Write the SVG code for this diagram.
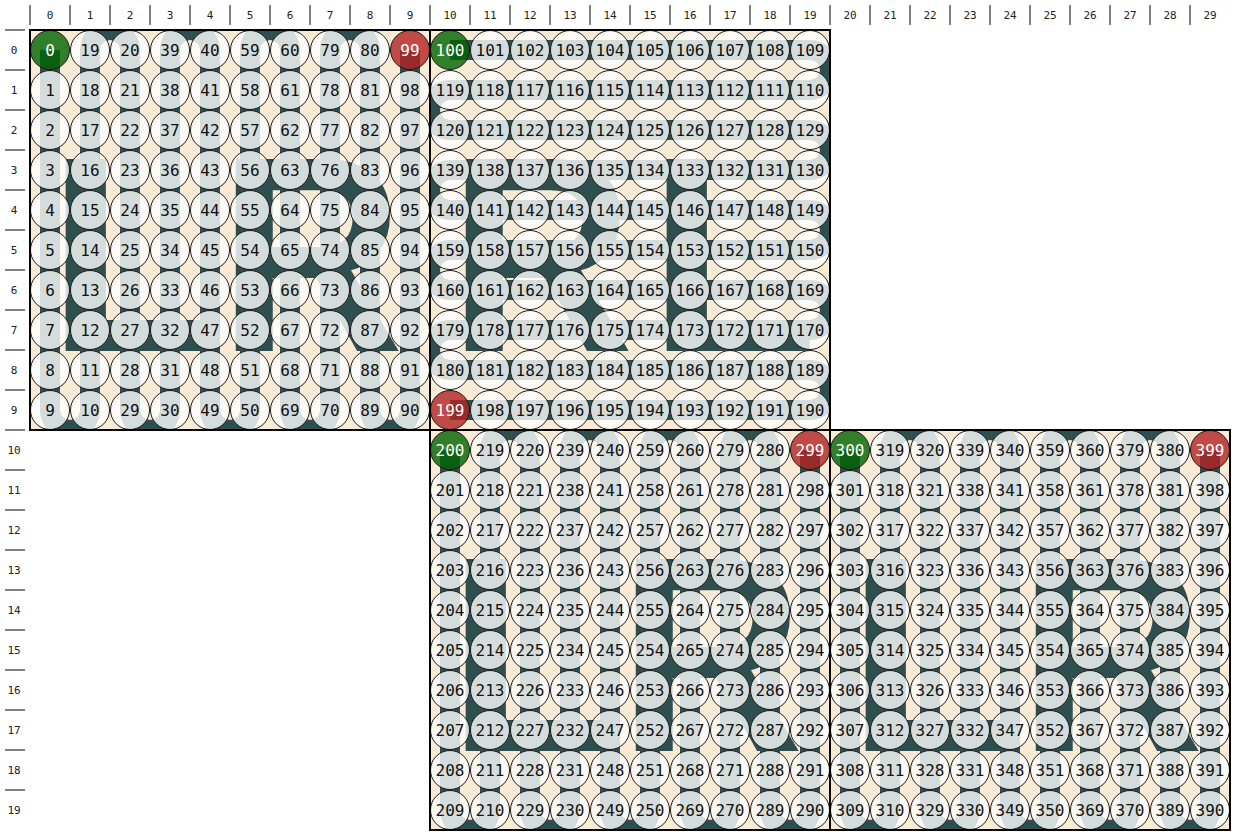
<svg xmlns="http://www.w3.org/2000/svg" width="1235" height="835" viewBox="0 0 1235 835">
<style>
.tick{stroke:#808080;stroke-width:2}
.hdr{font-family:"DejaVu Sans Mono",monospace;font-size:11px;fill:#222;text-anchor:middle;dominant-baseline:central}
.bg{fill:#faebd7}
.let{font-family:"Liberation Sans",Arial,sans-serif;font-weight:bold;font-size:279px;fill:#2f4f4f}
.wire{fill:none;stroke:#2f4f4f;stroke-width:20}
.led circle{fill:#ffffff;fill-opacity:0.8;stroke:#1a1a1a;stroke-width:1}
.led circle.s{fill:#006400}
.led circle.e{fill:#b22222}
.led text{font-family:"DejaVu Sans Mono",monospace;font-size:16px;fill:#111;text-anchor:middle;dominant-baseline:central}
.led text.w{fill:#fff}
.frame{fill:none;stroke:#000;stroke-width:2}
</style>
<defs>
<clipPath id="c0"><rect x="30" y="30" width="400" height="400"/></clipPath>
<clipPath id="c1"><rect x="430" y="30" width="400" height="400"/></clipPath>
<clipPath id="c2"><rect x="430" y="430" width="400" height="400"/></clipPath>
<clipPath id="c3"><rect x="830" y="430" width="400" height="400"/></clipPath>
</defs>
<g id="header">
<g class="tick">
<line x1="30" y1="5" x2="30" y2="25"/><line x1="70" y1="5" x2="70" y2="25"/><line x1="110" y1="5" x2="110" y2="25"/><line x1="150" y1="5" x2="150" y2="25"/><line x1="190" y1="5" x2="190" y2="25"/><line x1="230" y1="5" x2="230" y2="25"/><line x1="270" y1="5" x2="270" y2="25"/><line x1="310" y1="5" x2="310" y2="25"/><line x1="350" y1="5" x2="350" y2="25"/><line x1="390" y1="5" x2="390" y2="25"/><line x1="430" y1="5" x2="430" y2="25"/><line x1="470" y1="5" x2="470" y2="25"/><line x1="510" y1="5" x2="510" y2="25"/><line x1="550" y1="5" x2="550" y2="25"/><line x1="590" y1="5" x2="590" y2="25"/><line x1="630" y1="5" x2="630" y2="25"/><line x1="670" y1="5" x2="670" y2="25"/><line x1="710" y1="5" x2="710" y2="25"/><line x1="750" y1="5" x2="750" y2="25"/><line x1="790" y1="5" x2="790" y2="25"/><line x1="830" y1="5" x2="830" y2="25"/><line x1="870" y1="5" x2="870" y2="25"/><line x1="910" y1="5" x2="910" y2="25"/><line x1="950" y1="5" x2="950" y2="25"/><line x1="990" y1="5" x2="990" y2="25"/><line x1="1030" y1="5" x2="1030" y2="25"/><line x1="1070" y1="5" x2="1070" y2="25"/><line x1="1110" y1="5" x2="1110" y2="25"/><line x1="1150" y1="5" x2="1150" y2="25"/><line x1="1190" y1="5" x2="1190" y2="25"/>
<line x1="5" y1="30" x2="25" y2="30"/><line x1="5" y1="70" x2="25" y2="70"/><line x1="5" y1="110" x2="25" y2="110"/><line x1="5" y1="150" x2="25" y2="150"/><line x1="5" y1="190" x2="25" y2="190"/><line x1="5" y1="230" x2="25" y2="230"/><line x1="5" y1="270" x2="25" y2="270"/><line x1="5" y1="310" x2="25" y2="310"/><line x1="5" y1="350" x2="25" y2="350"/><line x1="5" y1="390" x2="25" y2="390"/><line x1="5" y1="430" x2="25" y2="430"/><line x1="5" y1="470" x2="25" y2="470"/><line x1="5" y1="510" x2="25" y2="510"/><line x1="5" y1="550" x2="25" y2="550"/><line x1="5" y1="590" x2="25" y2="590"/><line x1="5" y1="630" x2="25" y2="630"/><line x1="5" y1="670" x2="25" y2="670"/><line x1="5" y1="710" x2="25" y2="710"/><line x1="5" y1="750" x2="25" y2="750"/><line x1="5" y1="790" x2="25" y2="790"/>
</g>
<g class="hdr">
<text x="50" y="15">0</text><text x="90" y="15">1</text><text x="130" y="15">2</text><text x="170" y="15">3</text><text x="210" y="15">4</text><text x="250" y="15">5</text><text x="290" y="15">6</text><text x="330" y="15">7</text><text x="370" y="15">8</text><text x="410" y="15">9</text><text x="450" y="15">10</text><text x="490" y="15">11</text><text x="530" y="15">12</text><text x="570" y="15">13</text><text x="610" y="15">14</text><text x="650" y="15">15</text><text x="690" y="15">16</text><text x="730" y="15">17</text><text x="770" y="15">18</text><text x="810" y="15">19</text><text x="850" y="15">20</text><text x="890" y="15">21</text><text x="930" y="15">22</text><text x="970" y="15">23</text><text x="1010" y="15">24</text><text x="1050" y="15">25</text><text x="1090" y="15">26</text><text x="1130" y="15">27</text><text x="1170" y="15">28</text><text x="1210" y="15">29</text>
<text x="14" y="50">0</text><text x="14" y="90">1</text><text x="14" y="130">2</text><text x="14" y="170">3</text><text x="14" y="210">4</text><text x="14" y="250">5</text><text x="14" y="290">6</text><text x="14" y="330">7</text><text x="14" y="370">8</text><text x="14" y="410">9</text><text x="14" y="450">10</text><text x="14" y="490">11</text><text x="14" y="530">12</text><text x="14" y="570">13</text><text x="14" y="610">14</text><text x="14" y="650">15</text><text x="14" y="690">16</text><text x="14" y="730">17</text><text x="14" y="770">18</text><text x="14" y="810">19</text>
</g>
</g>
<g id="backgrounds">
<rect class="bg" x="30" y="30" width="400" height="400"/>
<rect class="bg" x="430" y="30" width="400" height="400"/>
<rect class="bg" x="430" y="430" width="400" height="400"/>
<rect class="bg" x="830" y="430" width="400" height="400"/>
<text class="let" x="47" y="351">L</text>
<text class="let" x="217" y="351" transform="translate(237,0) scale(0.92,1) translate(-237,0)">R</text>
<text class="let" x="447" y="351" transform="translate(467,0) scale(0.92,1) translate(-467,0)">R</text>
<text class="let" x="648" y="351">L</text>
<text class="let" x="447" y="751">L</text>
<text class="let" x="617" y="751" transform="translate(637,0) scale(0.92,1) translate(-637,0)">R</text>
<text class="let" x="847" y="751">L</text>
<text class="let" x="1017" y="751" transform="translate(1037,0) scale(0.92,1) translate(-1037,0)">R</text>
</g>
<g id="connectors">
<path class="wire" clip-path="url(#c0)" d="M50,50 V410 A20,20 0 0 0 90,410 V50 A20,20 0 0 1 130,50 V410 A20,20 0 0 0 170,410 V50 A20,20 0 0 1 210,50 V410 A20,20 0 0 0 250,410 V50 A20,20 0 0 1 290,50 V410 A20,20 0 0 0 330,410 V50 A20,20 0 0 1 370,50 V410 A20,20 0 0 0 410,410 V50"/>
<path class="wire" clip-path="url(#c1)" d="M450,50 H810 A20,20 0 0 1 810,90 H450 A20,20 0 0 0 450,130 H810 A20,20 0 0 1 810,170 H450 A20,20 0 0 0 450,210 H810 A20,20 0 0 1 810,250 H450 A20,20 0 0 0 450,290 H810 A20,20 0 0 1 810,330 H450 A20,20 0 0 0 450,370 H810 A20,20 0 0 1 810,410 H450"/>
<path class="wire" clip-path="url(#c2)" d="M450,450 V810 A20,20 0 0 0 490,810 V450 A20,20 0 0 1 530,450 V810 A20,20 0 0 0 570,810 V450 A20,20 0 0 1 610,450 V810 A20,20 0 0 0 650,810 V450 A20,20 0 0 1 690,450 V810 A20,20 0 0 0 730,810 V450 A20,20 0 0 1 770,450 V810 A20,20 0 0 0 810,810 V450"/>
<path class="wire" clip-path="url(#c3)" d="M850,450 V810 A20,20 0 0 0 890,810 V450 A20,20 0 0 1 930,450 V810 A20,20 0 0 0 970,810 V450 A20,20 0 0 1 1010,450 V810 A20,20 0 0 0 1050,810 V450 A20,20 0 0 1 1090,450 V810 A20,20 0 0 0 1130,810 V450 A20,20 0 0 1 1170,450 V810 A20,20 0 0 0 1210,810 V450"/>
</g>
<g id="panel0" class="led">
<circle class="s" cx="50" cy="50" r="19.5"/><text class="w" x="50" y="50">0</text>
<circle cx="50" cy="90" r="19.5"/><text x="50" y="90">1</text>
<circle cx="50" cy="130" r="19.5"/><text x="50" y="130">2</text>
<circle cx="50" cy="170" r="19.5"/><text x="50" y="170">3</text>
<circle cx="50" cy="210" r="19.5"/><text x="50" y="210">4</text>
<circle cx="50" cy="250" r="19.5"/><text x="50" y="250">5</text>
<circle cx="50" cy="290" r="19.5"/><text x="50" y="290">6</text>
<circle cx="50" cy="330" r="19.5"/><text x="50" y="330">7</text>
<circle cx="50" cy="370" r="19.5"/><text x="50" y="370">8</text>
<circle cx="50" cy="410" r="19.5"/><text x="50" y="410">9</text>
<circle cx="90" cy="410" r="19.5"/><text x="90" y="410">10</text>
<circle cx="90" cy="370" r="19.5"/><text x="90" y="370">11</text>
<circle cx="90" cy="330" r="19.5"/><text x="90" y="330">12</text>
<circle cx="90" cy="290" r="19.5"/><text x="90" y="290">13</text>
<circle cx="90" cy="250" r="19.5"/><text x="90" y="250">14</text>
<circle cx="90" cy="210" r="19.5"/><text x="90" y="210">15</text>
<circle cx="90" cy="170" r="19.5"/><text x="90" y="170">16</text>
<circle cx="90" cy="130" r="19.5"/><text x="90" y="130">17</text>
<circle cx="90" cy="90" r="19.5"/><text x="90" y="90">18</text>
<circle cx="90" cy="50" r="19.5"/><text x="90" y="50">19</text>
<circle cx="130" cy="50" r="19.5"/><text x="130" y="50">20</text>
<circle cx="130" cy="90" r="19.5"/><text x="130" y="90">21</text>
<circle cx="130" cy="130" r="19.5"/><text x="130" y="130">22</text>
<circle cx="130" cy="170" r="19.5"/><text x="130" y="170">23</text>
<circle cx="130" cy="210" r="19.5"/><text x="130" y="210">24</text>
<circle cx="130" cy="250" r="19.5"/><text x="130" y="250">25</text>
<circle cx="130" cy="290" r="19.5"/><text x="130" y="290">26</text>
<circle cx="130" cy="330" r="19.5"/><text x="130" y="330">27</text>
<circle cx="130" cy="370" r="19.5"/><text x="130" y="370">28</text>
<circle cx="130" cy="410" r="19.5"/><text x="130" y="410">29</text>
<circle cx="170" cy="410" r="19.5"/><text x="170" y="410">30</text>
<circle cx="170" cy="370" r="19.5"/><text x="170" y="370">31</text>
<circle cx="170" cy="330" r="19.5"/><text x="170" y="330">32</text>
<circle cx="170" cy="290" r="19.5"/><text x="170" y="290">33</text>
<circle cx="170" cy="250" r="19.5"/><text x="170" y="250">34</text>
<circle cx="170" cy="210" r="19.5"/><text x="170" y="210">35</text>
<circle cx="170" cy="170" r="19.5"/><text x="170" y="170">36</text>
<circle cx="170" cy="130" r="19.5"/><text x="170" y="130">37</text>
<circle cx="170" cy="90" r="19.5"/><text x="170" y="90">38</text>
<circle cx="170" cy="50" r="19.5"/><text x="170" y="50">39</text>
<circle cx="210" cy="50" r="19.5"/><text x="210" y="50">40</text>
<circle cx="210" cy="90" r="19.5"/><text x="210" y="90">41</text>
<circle cx="210" cy="130" r="19.5"/><text x="210" y="130">42</text>
<circle cx="210" cy="170" r="19.5"/><text x="210" y="170">43</text>
<circle cx="210" cy="210" r="19.5"/><text x="210" y="210">44</text>
<circle cx="210" cy="250" r="19.5"/><text x="210" y="250">45</text>
<circle cx="210" cy="290" r="19.5"/><text x="210" y="290">46</text>
<circle cx="210" cy="330" r="19.5"/><text x="210" y="330">47</text>
<circle cx="210" cy="370" r="19.5"/><text x="210" y="370">48</text>
<circle cx="210" cy="410" r="19.5"/><text x="210" y="410">49</text>
<circle cx="250" cy="410" r="19.5"/><text x="250" y="410">50</text>
<circle cx="250" cy="370" r="19.5"/><text x="250" y="370">51</text>
<circle cx="250" cy="330" r="19.5"/><text x="250" y="330">52</text>
<circle cx="250" cy="290" r="19.5"/><text x="250" y="290">53</text>
<circle cx="250" cy="250" r="19.5"/><text x="250" y="250">54</text>
<circle cx="250" cy="210" r="19.5"/><text x="250" y="210">55</text>
<circle cx="250" cy="170" r="19.5"/><text x="250" y="170">56</text>
<circle cx="250" cy="130" r="19.5"/><text x="250" y="130">57</text>
<circle cx="250" cy="90" r="19.5"/><text x="250" y="90">58</text>
<circle cx="250" cy="50" r="19.5"/><text x="250" y="50">59</text>
<circle cx="290" cy="50" r="19.5"/><text x="290" y="50">60</text>
<circle cx="290" cy="90" r="19.5"/><text x="290" y="90">61</text>
<circle cx="290" cy="130" r="19.5"/><text x="290" y="130">62</text>
<circle cx="290" cy="170" r="19.5"/><text x="290" y="170">63</text>
<circle cx="290" cy="210" r="19.5"/><text x="290" y="210">64</text>
<circle cx="290" cy="250" r="19.5"/><text x="290" y="250">65</text>
<circle cx="290" cy="290" r="19.5"/><text x="290" y="290">66</text>
<circle cx="290" cy="330" r="19.5"/><text x="290" y="330">67</text>
<circle cx="290" cy="370" r="19.5"/><text x="290" y="370">68</text>
<circle cx="290" cy="410" r="19.5"/><text x="290" y="410">69</text>
<circle cx="330" cy="410" r="19.5"/><text x="330" y="410">70</text>
<circle cx="330" cy="370" r="19.5"/><text x="330" y="370">71</text>
<circle cx="330" cy="330" r="19.5"/><text x="330" y="330">72</text>
<circle cx="330" cy="290" r="19.5"/><text x="330" y="290">73</text>
<circle cx="330" cy="250" r="19.5"/><text x="330" y="250">74</text>
<circle cx="330" cy="210" r="19.5"/><text x="330" y="210">75</text>
<circle cx="330" cy="170" r="19.5"/><text x="330" y="170">76</text>
<circle cx="330" cy="130" r="19.5"/><text x="330" y="130">77</text>
<circle cx="330" cy="90" r="19.5"/><text x="330" y="90">78</text>
<circle cx="330" cy="50" r="19.5"/><text x="330" y="50">79</text>
<circle cx="370" cy="50" r="19.5"/><text x="370" y="50">80</text>
<circle cx="370" cy="90" r="19.5"/><text x="370" y="90">81</text>
<circle cx="370" cy="130" r="19.5"/><text x="370" y="130">82</text>
<circle cx="370" cy="170" r="19.5"/><text x="370" y="170">83</text>
<circle cx="370" cy="210" r="19.5"/><text x="370" y="210">84</text>
<circle cx="370" cy="250" r="19.5"/><text x="370" y="250">85</text>
<circle cx="370" cy="290" r="19.5"/><text x="370" y="290">86</text>
<circle cx="370" cy="330" r="19.5"/><text x="370" y="330">87</text>
<circle cx="370" cy="370" r="19.5"/><text x="370" y="370">88</text>
<circle cx="370" cy="410" r="19.5"/><text x="370" y="410">89</text>
<circle cx="410" cy="410" r="19.5"/><text x="410" y="410">90</text>
<circle cx="410" cy="370" r="19.5"/><text x="410" y="370">91</text>
<circle cx="410" cy="330" r="19.5"/><text x="410" y="330">92</text>
<circle cx="410" cy="290" r="19.5"/><text x="410" y="290">93</text>
<circle cx="410" cy="250" r="19.5"/><text x="410" y="250">94</text>
<circle cx="410" cy="210" r="19.5"/><text x="410" y="210">95</text>
<circle cx="410" cy="170" r="19.5"/><text x="410" y="170">96</text>
<circle cx="410" cy="130" r="19.5"/><text x="410" y="130">97</text>
<circle cx="410" cy="90" r="19.5"/><text x="410" y="90">98</text>
<circle class="e" cx="410" cy="50" r="19.5"/><text class="w" x="410" y="50">99</text>
</g>
<g id="panel1" class="led">
<circle class="s" cx="450" cy="50" r="19.5"/><text class="w" x="450" y="50">100</text>
<circle cx="490" cy="50" r="19.5"/><text x="490" y="50">101</text>
<circle cx="530" cy="50" r="19.5"/><text x="530" y="50">102</text>
<circle cx="570" cy="50" r="19.5"/><text x="570" y="50">103</text>
<circle cx="610" cy="50" r="19.5"/><text x="610" y="50">104</text>
<circle cx="650" cy="50" r="19.5"/><text x="650" y="50">105</text>
<circle cx="690" cy="50" r="19.5"/><text x="690" y="50">106</text>
<circle cx="730" cy="50" r="19.5"/><text x="730" y="50">107</text>
<circle cx="770" cy="50" r="19.5"/><text x="770" y="50">108</text>
<circle cx="810" cy="50" r="19.5"/><text x="810" y="50">109</text>
<circle cx="810" cy="90" r="19.5"/><text x="810" y="90">110</text>
<circle cx="770" cy="90" r="19.5"/><text x="770" y="90">111</text>
<circle cx="730" cy="90" r="19.5"/><text x="730" y="90">112</text>
<circle cx="690" cy="90" r="19.5"/><text x="690" y="90">113</text>
<circle cx="650" cy="90" r="19.5"/><text x="650" y="90">114</text>
<circle cx="610" cy="90" r="19.5"/><text x="610" y="90">115</text>
<circle cx="570" cy="90" r="19.5"/><text x="570" y="90">116</text>
<circle cx="530" cy="90" r="19.5"/><text x="530" y="90">117</text>
<circle cx="490" cy="90" r="19.5"/><text x="490" y="90">118</text>
<circle cx="450" cy="90" r="19.5"/><text x="450" y="90">119</text>
<circle cx="450" cy="130" r="19.5"/><text x="450" y="130">120</text>
<circle cx="490" cy="130" r="19.5"/><text x="490" y="130">121</text>
<circle cx="530" cy="130" r="19.5"/><text x="530" y="130">122</text>
<circle cx="570" cy="130" r="19.5"/><text x="570" y="130">123</text>
<circle cx="610" cy="130" r="19.5"/><text x="610" y="130">124</text>
<circle cx="650" cy="130" r="19.5"/><text x="650" y="130">125</text>
<circle cx="690" cy="130" r="19.5"/><text x="690" y="130">126</text>
<circle cx="730" cy="130" r="19.5"/><text x="730" y="130">127</text>
<circle cx="770" cy="130" r="19.5"/><text x="770" y="130">128</text>
<circle cx="810" cy="130" r="19.5"/><text x="810" y="130">129</text>
<circle cx="810" cy="170" r="19.5"/><text x="810" y="170">130</text>
<circle cx="770" cy="170" r="19.5"/><text x="770" y="170">131</text>
<circle cx="730" cy="170" r="19.5"/><text x="730" y="170">132</text>
<circle cx="690" cy="170" r="19.5"/><text x="690" y="170">133</text>
<circle cx="650" cy="170" r="19.5"/><text x="650" y="170">134</text>
<circle cx="610" cy="170" r="19.5"/><text x="610" y="170">135</text>
<circle cx="570" cy="170" r="19.5"/><text x="570" y="170">136</text>
<circle cx="530" cy="170" r="19.5"/><text x="530" y="170">137</text>
<circle cx="490" cy="170" r="19.5"/><text x="490" y="170">138</text>
<circle cx="450" cy="170" r="19.5"/><text x="450" y="170">139</text>
<circle cx="450" cy="210" r="19.5"/><text x="450" y="210">140</text>
<circle cx="490" cy="210" r="19.5"/><text x="490" y="210">141</text>
<circle cx="530" cy="210" r="19.5"/><text x="530" y="210">142</text>
<circle cx="570" cy="210" r="19.5"/><text x="570" y="210">143</text>
<circle cx="610" cy="210" r="19.5"/><text x="610" y="210">144</text>
<circle cx="650" cy="210" r="19.5"/><text x="650" y="210">145</text>
<circle cx="690" cy="210" r="19.5"/><text x="690" y="210">146</text>
<circle cx="730" cy="210" r="19.5"/><text x="730" y="210">147</text>
<circle cx="770" cy="210" r="19.5"/><text x="770" y="210">148</text>
<circle cx="810" cy="210" r="19.5"/><text x="810" y="210">149</text>
<circle cx="810" cy="250" r="19.5"/><text x="810" y="250">150</text>
<circle cx="770" cy="250" r="19.5"/><text x="770" y="250">151</text>
<circle cx="730" cy="250" r="19.5"/><text x="730" y="250">152</text>
<circle cx="690" cy="250" r="19.5"/><text x="690" y="250">153</text>
<circle cx="650" cy="250" r="19.5"/><text x="650" y="250">154</text>
<circle cx="610" cy="250" r="19.5"/><text x="610" y="250">155</text>
<circle cx="570" cy="250" r="19.5"/><text x="570" y="250">156</text>
<circle cx="530" cy="250" r="19.5"/><text x="530" y="250">157</text>
<circle cx="490" cy="250" r="19.5"/><text x="490" y="250">158</text>
<circle cx="450" cy="250" r="19.5"/><text x="450" y="250">159</text>
<circle cx="450" cy="290" r="19.5"/><text x="450" y="290">160</text>
<circle cx="490" cy="290" r="19.5"/><text x="490" y="290">161</text>
<circle cx="530" cy="290" r="19.5"/><text x="530" y="290">162</text>
<circle cx="570" cy="290" r="19.5"/><text x="570" y="290">163</text>
<circle cx="610" cy="290" r="19.5"/><text x="610" y="290">164</text>
<circle cx="650" cy="290" r="19.5"/><text x="650" y="290">165</text>
<circle cx="690" cy="290" r="19.5"/><text x="690" y="290">166</text>
<circle cx="730" cy="290" r="19.5"/><text x="730" y="290">167</text>
<circle cx="770" cy="290" r="19.5"/><text x="770" y="290">168</text>
<circle cx="810" cy="290" r="19.5"/><text x="810" y="290">169</text>
<circle cx="810" cy="330" r="19.5"/><text x="810" y="330">170</text>
<circle cx="770" cy="330" r="19.5"/><text x="770" y="330">171</text>
<circle cx="730" cy="330" r="19.5"/><text x="730" y="330">172</text>
<circle cx="690" cy="330" r="19.5"/><text x="690" y="330">173</text>
<circle cx="650" cy="330" r="19.5"/><text x="650" y="330">174</text>
<circle cx="610" cy="330" r="19.5"/><text x="610" y="330">175</text>
<circle cx="570" cy="330" r="19.5"/><text x="570" y="330">176</text>
<circle cx="530" cy="330" r="19.5"/><text x="530" y="330">177</text>
<circle cx="490" cy="330" r="19.5"/><text x="490" y="330">178</text>
<circle cx="450" cy="330" r="19.5"/><text x="450" y="330">179</text>
<circle cx="450" cy="370" r="19.5"/><text x="450" y="370">180</text>
<circle cx="490" cy="370" r="19.5"/><text x="490" y="370">181</text>
<circle cx="530" cy="370" r="19.5"/><text x="530" y="370">182</text>
<circle cx="570" cy="370" r="19.5"/><text x="570" y="370">183</text>
<circle cx="610" cy="370" r="19.5"/><text x="610" y="370">184</text>
<circle cx="650" cy="370" r="19.5"/><text x="650" y="370">185</text>
<circle cx="690" cy="370" r="19.5"/><text x="690" y="370">186</text>
<circle cx="730" cy="370" r="19.5"/><text x="730" y="370">187</text>
<circle cx="770" cy="370" r="19.5"/><text x="770" y="370">188</text>
<circle cx="810" cy="370" r="19.5"/><text x="810" y="370">189</text>
<circle cx="810" cy="410" r="19.5"/><text x="810" y="410">190</text>
<circle cx="770" cy="410" r="19.5"/><text x="770" y="410">191</text>
<circle cx="730" cy="410" r="19.5"/><text x="730" y="410">192</text>
<circle cx="690" cy="410" r="19.5"/><text x="690" y="410">193</text>
<circle cx="650" cy="410" r="19.5"/><text x="650" y="410">194</text>
<circle cx="610" cy="410" r="19.5"/><text x="610" y="410">195</text>
<circle cx="570" cy="410" r="19.5"/><text x="570" y="410">196</text>
<circle cx="530" cy="410" r="19.5"/><text x="530" y="410">197</text>
<circle cx="490" cy="410" r="19.5"/><text x="490" y="410">198</text>
<circle class="e" cx="450" cy="410" r="19.5"/><text class="w" x="450" y="410">199</text>
</g>
<g id="panel2" class="led">
<circle class="s" cx="450" cy="450" r="19.5"/><text class="w" x="450" y="450">200</text>
<circle cx="450" cy="490" r="19.5"/><text x="450" y="490">201</text>
<circle cx="450" cy="530" r="19.5"/><text x="450" y="530">202</text>
<circle cx="450" cy="570" r="19.5"/><text x="450" y="570">203</text>
<circle cx="450" cy="610" r="19.5"/><text x="450" y="610">204</text>
<circle cx="450" cy="650" r="19.5"/><text x="450" y="650">205</text>
<circle cx="450" cy="690" r="19.5"/><text x="450" y="690">206</text>
<circle cx="450" cy="730" r="19.5"/><text x="450" y="730">207</text>
<circle cx="450" cy="770" r="19.5"/><text x="450" y="770">208</text>
<circle cx="450" cy="810" r="19.5"/><text x="450" y="810">209</text>
<circle cx="490" cy="810" r="19.5"/><text x="490" y="810">210</text>
<circle cx="490" cy="770" r="19.5"/><text x="490" y="770">211</text>
<circle cx="490" cy="730" r="19.5"/><text x="490" y="730">212</text>
<circle cx="490" cy="690" r="19.5"/><text x="490" y="690">213</text>
<circle cx="490" cy="650" r="19.5"/><text x="490" y="650">214</text>
<circle cx="490" cy="610" r="19.5"/><text x="490" y="610">215</text>
<circle cx="490" cy="570" r="19.5"/><text x="490" y="570">216</text>
<circle cx="490" cy="530" r="19.5"/><text x="490" y="530">217</text>
<circle cx="490" cy="490" r="19.5"/><text x="490" y="490">218</text>
<circle cx="490" cy="450" r="19.5"/><text x="490" y="450">219</text>
<circle cx="530" cy="450" r="19.5"/><text x="530" y="450">220</text>
<circle cx="530" cy="490" r="19.5"/><text x="530" y="490">221</text>
<circle cx="530" cy="530" r="19.5"/><text x="530" y="530">222</text>
<circle cx="530" cy="570" r="19.5"/><text x="530" y="570">223</text>
<circle cx="530" cy="610" r="19.5"/><text x="530" y="610">224</text>
<circle cx="530" cy="650" r="19.5"/><text x="530" y="650">225</text>
<circle cx="530" cy="690" r="19.5"/><text x="530" y="690">226</text>
<circle cx="530" cy="730" r="19.5"/><text x="530" y="730">227</text>
<circle cx="530" cy="770" r="19.5"/><text x="530" y="770">228</text>
<circle cx="530" cy="810" r="19.5"/><text x="530" y="810">229</text>
<circle cx="570" cy="810" r="19.5"/><text x="570" y="810">230</text>
<circle cx="570" cy="770" r="19.5"/><text x="570" y="770">231</text>
<circle cx="570" cy="730" r="19.5"/><text x="570" y="730">232</text>
<circle cx="570" cy="690" r="19.5"/><text x="570" y="690">233</text>
<circle cx="570" cy="650" r="19.5"/><text x="570" y="650">234</text>
<circle cx="570" cy="610" r="19.5"/><text x="570" y="610">235</text>
<circle cx="570" cy="570" r="19.5"/><text x="570" y="570">236</text>
<circle cx="570" cy="530" r="19.5"/><text x="570" y="530">237</text>
<circle cx="570" cy="490" r="19.5"/><text x="570" y="490">238</text>
<circle cx="570" cy="450" r="19.5"/><text x="570" y="450">239</text>
<circle cx="610" cy="450" r="19.5"/><text x="610" y="450">240</text>
<circle cx="610" cy="490" r="19.5"/><text x="610" y="490">241</text>
<circle cx="610" cy="530" r="19.5"/><text x="610" y="530">242</text>
<circle cx="610" cy="570" r="19.5"/><text x="610" y="570">243</text>
<circle cx="610" cy="610" r="19.5"/><text x="610" y="610">244</text>
<circle cx="610" cy="650" r="19.5"/><text x="610" y="650">245</text>
<circle cx="610" cy="690" r="19.5"/><text x="610" y="690">246</text>
<circle cx="610" cy="730" r="19.5"/><text x="610" y="730">247</text>
<circle cx="610" cy="770" r="19.5"/><text x="610" y="770">248</text>
<circle cx="610" cy="810" r="19.5"/><text x="610" y="810">249</text>
<circle cx="650" cy="810" r="19.5"/><text x="650" y="810">250</text>
<circle cx="650" cy="770" r="19.5"/><text x="650" y="770">251</text>
<circle cx="650" cy="730" r="19.5"/><text x="650" y="730">252</text>
<circle cx="650" cy="690" r="19.5"/><text x="650" y="690">253</text>
<circle cx="650" cy="650" r="19.5"/><text x="650" y="650">254</text>
<circle cx="650" cy="610" r="19.5"/><text x="650" y="610">255</text>
<circle cx="650" cy="570" r="19.5"/><text x="650" y="570">256</text>
<circle cx="650" cy="530" r="19.5"/><text x="650" y="530">257</text>
<circle cx="650" cy="490" r="19.5"/><text x="650" y="490">258</text>
<circle cx="650" cy="450" r="19.5"/><text x="650" y="450">259</text>
<circle cx="690" cy="450" r="19.5"/><text x="690" y="450">260</text>
<circle cx="690" cy="490" r="19.5"/><text x="690" y="490">261</text>
<circle cx="690" cy="530" r="19.5"/><text x="690" y="530">262</text>
<circle cx="690" cy="570" r="19.5"/><text x="690" y="570">263</text>
<circle cx="690" cy="610" r="19.5"/><text x="690" y="610">264</text>
<circle cx="690" cy="650" r="19.5"/><text x="690" y="650">265</text>
<circle cx="690" cy="690" r="19.5"/><text x="690" y="690">266</text>
<circle cx="690" cy="730" r="19.5"/><text x="690" y="730">267</text>
<circle cx="690" cy="770" r="19.5"/><text x="690" y="770">268</text>
<circle cx="690" cy="810" r="19.5"/><text x="690" y="810">269</text>
<circle cx="730" cy="810" r="19.5"/><text x="730" y="810">270</text>
<circle cx="730" cy="770" r="19.5"/><text x="730" y="770">271</text>
<circle cx="730" cy="730" r="19.5"/><text x="730" y="730">272</text>
<circle cx="730" cy="690" r="19.5"/><text x="730" y="690">273</text>
<circle cx="730" cy="650" r="19.5"/><text x="730" y="650">274</text>
<circle cx="730" cy="610" r="19.5"/><text x="730" y="610">275</text>
<circle cx="730" cy="570" r="19.5"/><text x="730" y="570">276</text>
<circle cx="730" cy="530" r="19.5"/><text x="730" y="530">277</text>
<circle cx="730" cy="490" r="19.5"/><text x="730" y="490">278</text>
<circle cx="730" cy="450" r="19.5"/><text x="730" y="450">279</text>
<circle cx="770" cy="450" r="19.5"/><text x="770" y="450">280</text>
<circle cx="770" cy="490" r="19.5"/><text x="770" y="490">281</text>
<circle cx="770" cy="530" r="19.5"/><text x="770" y="530">282</text>
<circle cx="770" cy="570" r="19.5"/><text x="770" y="570">283</text>
<circle cx="770" cy="610" r="19.5"/><text x="770" y="610">284</text>
<circle cx="770" cy="650" r="19.5"/><text x="770" y="650">285</text>
<circle cx="770" cy="690" r="19.5"/><text x="770" y="690">286</text>
<circle cx="770" cy="730" r="19.5"/><text x="770" y="730">287</text>
<circle cx="770" cy="770" r="19.5"/><text x="770" y="770">288</text>
<circle cx="770" cy="810" r="19.5"/><text x="770" y="810">289</text>
<circle cx="810" cy="810" r="19.5"/><text x="810" y="810">290</text>
<circle cx="810" cy="770" r="19.5"/><text x="810" y="770">291</text>
<circle cx="810" cy="730" r="19.5"/><text x="810" y="730">292</text>
<circle cx="810" cy="690" r="19.5"/><text x="810" y="690">293</text>
<circle cx="810" cy="650" r="19.5"/><text x="810" y="650">294</text>
<circle cx="810" cy="610" r="19.5"/><text x="810" y="610">295</text>
<circle cx="810" cy="570" r="19.5"/><text x="810" y="570">296</text>
<circle cx="810" cy="530" r="19.5"/><text x="810" y="530">297</text>
<circle cx="810" cy="490" r="19.5"/><text x="810" y="490">298</text>
<circle class="e" cx="810" cy="450" r="19.5"/><text class="w" x="810" y="450">299</text>
</g>
<g id="panel3" class="led">
<circle class="s" cx="850" cy="450" r="19.5"/><text class="w" x="850" y="450">300</text>
<circle cx="850" cy="490" r="19.5"/><text x="850" y="490">301</text>
<circle cx="850" cy="530" r="19.5"/><text x="850" y="530">302</text>
<circle cx="850" cy="570" r="19.5"/><text x="850" y="570">303</text>
<circle cx="850" cy="610" r="19.5"/><text x="850" y="610">304</text>
<circle cx="850" cy="650" r="19.5"/><text x="850" y="650">305</text>
<circle cx="850" cy="690" r="19.5"/><text x="850" y="690">306</text>
<circle cx="850" cy="730" r="19.5"/><text x="850" y="730">307</text>
<circle cx="850" cy="770" r="19.5"/><text x="850" y="770">308</text>
<circle cx="850" cy="810" r="19.5"/><text x="850" y="810">309</text>
<circle cx="890" cy="810" r="19.5"/><text x="890" y="810">310</text>
<circle cx="890" cy="770" r="19.5"/><text x="890" y="770">311</text>
<circle cx="890" cy="730" r="19.5"/><text x="890" y="730">312</text>
<circle cx="890" cy="690" r="19.5"/><text x="890" y="690">313</text>
<circle cx="890" cy="650" r="19.5"/><text x="890" y="650">314</text>
<circle cx="890" cy="610" r="19.5"/><text x="890" y="610">315</text>
<circle cx="890" cy="570" r="19.5"/><text x="890" y="570">316</text>
<circle cx="890" cy="530" r="19.5"/><text x="890" y="530">317</text>
<circle cx="890" cy="490" r="19.5"/><text x="890" y="490">318</text>
<circle cx="890" cy="450" r="19.5"/><text x="890" y="450">319</text>
<circle cx="930" cy="450" r="19.5"/><text x="930" y="450">320</text>
<circle cx="930" cy="490" r="19.5"/><text x="930" y="490">321</text>
<circle cx="930" cy="530" r="19.5"/><text x="930" y="530">322</text>
<circle cx="930" cy="570" r="19.5"/><text x="930" y="570">323</text>
<circle cx="930" cy="610" r="19.5"/><text x="930" y="610">324</text>
<circle cx="930" cy="650" r="19.5"/><text x="930" y="650">325</text>
<circle cx="930" cy="690" r="19.5"/><text x="930" y="690">326</text>
<circle cx="930" cy="730" r="19.5"/><text x="930" y="730">327</text>
<circle cx="930" cy="770" r="19.5"/><text x="930" y="770">328</text>
<circle cx="930" cy="810" r="19.5"/><text x="930" y="810">329</text>
<circle cx="970" cy="810" r="19.5"/><text x="970" y="810">330</text>
<circle cx="970" cy="770" r="19.5"/><text x="970" y="770">331</text>
<circle cx="970" cy="730" r="19.5"/><text x="970" y="730">332</text>
<circle cx="970" cy="690" r="19.5"/><text x="970" y="690">333</text>
<circle cx="970" cy="650" r="19.5"/><text x="970" y="650">334</text>
<circle cx="970" cy="610" r="19.5"/><text x="970" y="610">335</text>
<circle cx="970" cy="570" r="19.5"/><text x="970" y="570">336</text>
<circle cx="970" cy="530" r="19.5"/><text x="970" y="530">337</text>
<circle cx="970" cy="490" r="19.5"/><text x="970" y="490">338</text>
<circle cx="970" cy="450" r="19.5"/><text x="970" y="450">339</text>
<circle cx="1010" cy="450" r="19.5"/><text x="1010" y="450">340</text>
<circle cx="1010" cy="490" r="19.5"/><text x="1010" y="490">341</text>
<circle cx="1010" cy="530" r="19.5"/><text x="1010" y="530">342</text>
<circle cx="1010" cy="570" r="19.5"/><text x="1010" y="570">343</text>
<circle cx="1010" cy="610" r="19.5"/><text x="1010" y="610">344</text>
<circle cx="1010" cy="650" r="19.5"/><text x="1010" y="650">345</text>
<circle cx="1010" cy="690" r="19.5"/><text x="1010" y="690">346</text>
<circle cx="1010" cy="730" r="19.5"/><text x="1010" y="730">347</text>
<circle cx="1010" cy="770" r="19.5"/><text x="1010" y="770">348</text>
<circle cx="1010" cy="810" r="19.5"/><text x="1010" y="810">349</text>
<circle cx="1050" cy="810" r="19.5"/><text x="1050" y="810">350</text>
<circle cx="1050" cy="770" r="19.5"/><text x="1050" y="770">351</text>
<circle cx="1050" cy="730" r="19.5"/><text x="1050" y="730">352</text>
<circle cx="1050" cy="690" r="19.5"/><text x="1050" y="690">353</text>
<circle cx="1050" cy="650" r="19.5"/><text x="1050" y="650">354</text>
<circle cx="1050" cy="610" r="19.5"/><text x="1050" y="610">355</text>
<circle cx="1050" cy="570" r="19.5"/><text x="1050" y="570">356</text>
<circle cx="1050" cy="530" r="19.5"/><text x="1050" y="530">357</text>
<circle cx="1050" cy="490" r="19.5"/><text x="1050" y="490">358</text>
<circle cx="1050" cy="450" r="19.5"/><text x="1050" y="450">359</text>
<circle cx="1090" cy="450" r="19.5"/><text x="1090" y="450">360</text>
<circle cx="1090" cy="490" r="19.5"/><text x="1090" y="490">361</text>
<circle cx="1090" cy="530" r="19.5"/><text x="1090" y="530">362</text>
<circle cx="1090" cy="570" r="19.5"/><text x="1090" y="570">363</text>
<circle cx="1090" cy="610" r="19.5"/><text x="1090" y="610">364</text>
<circle cx="1090" cy="650" r="19.5"/><text x="1090" y="650">365</text>
<circle cx="1090" cy="690" r="19.5"/><text x="1090" y="690">366</text>
<circle cx="1090" cy="730" r="19.5"/><text x="1090" y="730">367</text>
<circle cx="1090" cy="770" r="19.5"/><text x="1090" y="770">368</text>
<circle cx="1090" cy="810" r="19.5"/><text x="1090" y="810">369</text>
<circle cx="1130" cy="810" r="19.5"/><text x="1130" y="810">370</text>
<circle cx="1130" cy="770" r="19.5"/><text x="1130" y="770">371</text>
<circle cx="1130" cy="730" r="19.5"/><text x="1130" y="730">372</text>
<circle cx="1130" cy="690" r="19.5"/><text x="1130" y="690">373</text>
<circle cx="1130" cy="650" r="19.5"/><text x="1130" y="650">374</text>
<circle cx="1130" cy="610" r="19.5"/><text x="1130" y="610">375</text>
<circle cx="1130" cy="570" r="19.5"/><text x="1130" y="570">376</text>
<circle cx="1130" cy="530" r="19.5"/><text x="1130" y="530">377</text>
<circle cx="1130" cy="490" r="19.5"/><text x="1130" y="490">378</text>
<circle cx="1130" cy="450" r="19.5"/><text x="1130" y="450">379</text>
<circle cx="1170" cy="450" r="19.5"/><text x="1170" y="450">380</text>
<circle cx="1170" cy="490" r="19.5"/><text x="1170" y="490">381</text>
<circle cx="1170" cy="530" r="19.5"/><text x="1170" y="530">382</text>
<circle cx="1170" cy="570" r="19.5"/><text x="1170" y="570">383</text>
<circle cx="1170" cy="610" r="19.5"/><text x="1170" y="610">384</text>
<circle cx="1170" cy="650" r="19.5"/><text x="1170" y="650">385</text>
<circle cx="1170" cy="690" r="19.5"/><text x="1170" y="690">386</text>
<circle cx="1170" cy="730" r="19.5"/><text x="1170" y="730">387</text>
<circle cx="1170" cy="770" r="19.5"/><text x="1170" y="770">388</text>
<circle cx="1170" cy="810" r="19.5"/><text x="1170" y="810">389</text>
<circle cx="1210" cy="810" r="19.5"/><text x="1210" y="810">390</text>
<circle cx="1210" cy="770" r="19.5"/><text x="1210" y="770">391</text>
<circle cx="1210" cy="730" r="19.5"/><text x="1210" y="730">392</text>
<circle cx="1210" cy="690" r="19.5"/><text x="1210" y="690">393</text>
<circle cx="1210" cy="650" r="19.5"/><text x="1210" y="650">394</text>
<circle cx="1210" cy="610" r="19.5"/><text x="1210" y="610">395</text>
<circle cx="1210" cy="570" r="19.5"/><text x="1210" y="570">396</text>
<circle cx="1210" cy="530" r="19.5"/><text x="1210" y="530">397</text>
<circle cx="1210" cy="490" r="19.5"/><text x="1210" y="490">398</text>
<circle class="e" cx="1210" cy="450" r="19.5"/><text class="w" x="1210" y="450">399</text>
</g>
<g id="frames">
<rect class="frame" x="30" y="30" width="400" height="400"/>
<rect class="frame" x="430" y="30" width="400" height="400"/>
<rect class="frame" x="430" y="430" width="400" height="400"/>
<rect class="frame" x="830" y="430" width="400" height="400"/>
</g>
</svg>
